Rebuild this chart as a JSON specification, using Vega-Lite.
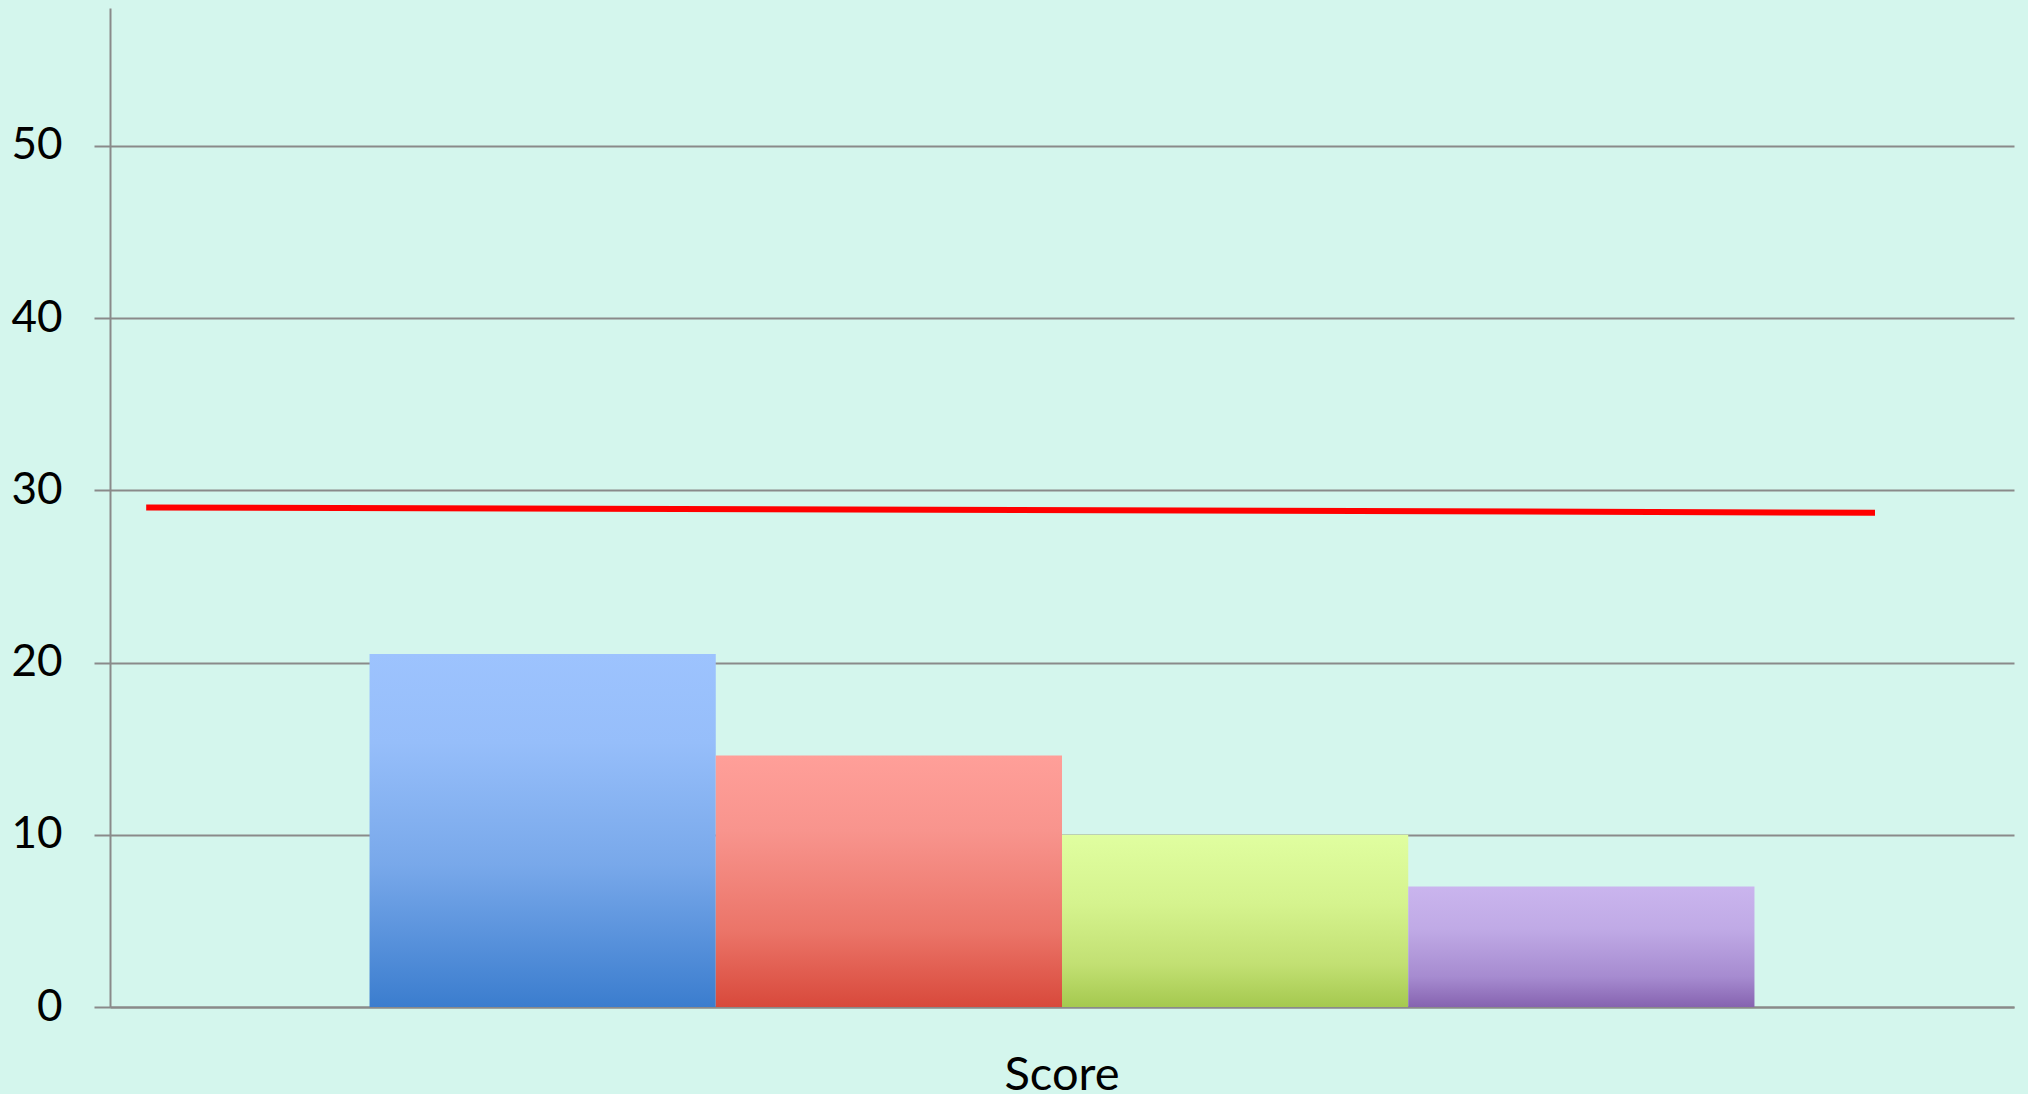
{
  "$schema": "https://vega.github.io/schema/vega-lite/v6.json",
  "width": 1904,
  "height": 999,
  "autosize": "none",
  "padding": {"left": 110, "top": 8, "right": 14, "bottom": 87},
  "background": "#d4f6ed",
  "config": {"view": {"stroke": null}, "font": "Lato"},
  "datasets": {
    "bars": [
      {"category": "Score", "series": "Series 1", "value": 20.5},
      {"category": "Score", "series": "Series 2", "value": 14.6},
      {"category": "Score", "series": "Series 3", "value": 10.0},
      {"category": "Score", "series": "Series 4", "value": 7.0}
    ],
    "trend": [
      {"t": 0.019, "value": 29.0},
      {"t": 0.927, "value": 28.7}
    ]
  },
  "layer": [
    {
      "data": {"name": "bars"},
      "encoding": {
        "x": {"field": "category", "type": "nominal", "title": null,
          "scale": {"paddingInner": 0, "paddingOuter": 0.1874},
          "axis": {"labelFontSize": 47, "labelColor": "#000000", "labelAngle": 0, "ticks": false, "labelPadding": 45, "domainColor": "#8a8a8a", "domainWidth": 2}},
        "xOffset": {"field": "series", "type": "nominal", "scale": {"domain": ["Series 1", "Series 2", "Series 3", "Series 4"], "paddingInner": 0, "paddingOuter": 0}},
        "y": {"field": "value", "type": "quantitative", "title": null,
          "scale": {"domain": [0, 58], "nice": false},
          "axis": {"values": [0, 10, 20, 30, 40, 50], "labelFontSize": 44, "labelColor": "#000000", "tickSize": 16, "tickColor": "#8a8a8a", "tickWidth": 2, "labelPadding": 32, "domainColor": "#8a8a8a", "domainWidth": 2, "gridColor": "#8a8a8a", "gridWidth": 2, "gridOpacity": 1}}
      },
      "layer": [
        {"transform": [{"filter": "datum.series === 'Series 1'"}],
          "mark": {"type": "bar", "color": {"gradient": "linear", "x1": 0, "y1": 0, "x2": 0, "y2": 1, "stops": [{"offset": 0, "color": "#9dc3fe"}, {"offset": 0.25, "color": "#96befa"}, {"offset": 0.6, "color": "#78a8ea"}, {"offset": 1, "color": "#3b7dce"}]}}},
        {"transform": [{"filter": "datum.series === 'Series 2'"}],
          "mark": {"type": "bar", "color": {"gradient": "linear", "x1": 0, "y1": 0, "x2": 0, "y2": 1, "stops": [{"offset": 0, "color": "#ff9f99"}, {"offset": 0.3, "color": "#f8948d"}, {"offset": 0.7, "color": "#eb7468"}, {"offset": 1, "color": "#d8493b"}]}}},
        {"transform": [{"filter": "datum.series === 'Series 3'"}],
          "mark": {"type": "bar", "color": {"gradient": "linear", "x1": 0, "y1": 0, "x2": 0, "y2": 1, "stops": [{"offset": 0, "color": "#e0fea0"}, {"offset": 0.4, "color": "#d5f38e"}, {"offset": 0.75, "color": "#c2e073"}, {"offset": 1, "color": "#a5c94f"}]}}},
        {"transform": [{"filter": "datum.series === 'Series 4'"}],
          "mark": {"type": "bar", "color": {"gradient": "linear", "x1": 0, "y1": 0, "x2": 0, "y2": 1, "stops": [{"offset": 0, "color": "#cab5ee"}, {"offset": 0.35, "color": "#c0aae6"}, {"offset": 0.75, "color": "#a68bd0"}, {"offset": 1, "color": "#8663b0"}]}}}
      ]
    },
    {
      "data": {"name": "trend"},
      "mark": {"type": "line", "color": "#ff0000", "strokeWidth": 6},
      "encoding": {
        "x": {"field": "t", "type": "quantitative", "scale": {"domain": [0, 1], "nice": false, "zero": false}, "axis": null},
        "y": {"field": "value", "type": "quantitative", "scale": {"domain": [0, 58], "nice": false}}
      }
    }
  ],
  "resolve": {"scale": {"x": "independent"}, "axis": {"x": "independent"}}
}
